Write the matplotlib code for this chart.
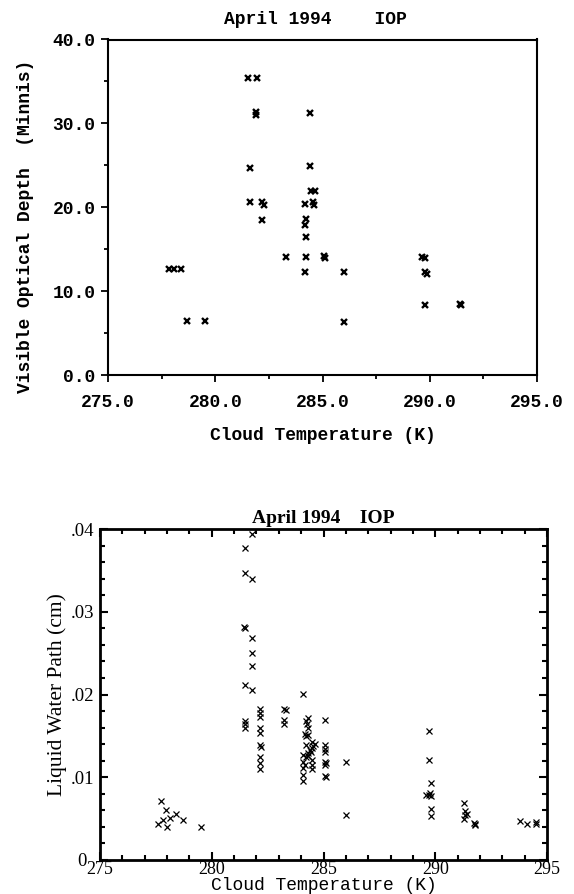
import numpy as np
import matplotlib
matplotlib.use("Agg")
import matplotlib.pyplot as plt
from matplotlib.ticker import MultipleLocator, FixedLocator
from matplotlib.transforms import ScaledTranslation

# --- top panel: visible optical depth vs cloud temperature
od_temp = [281.55, 281.95, 281.9, 281.9, 284.4, 281.6, 284.4, 284.45, 284.65,
           281.6, 282.2, 282.25, 284.2, 284.55, 284.6, 282.2, 284.25, 284.2,
           284.25, 283.3, 284.25, 285.05, 285.1, 284.2, 286.0, 277.85, 278.1,
           278.4, 278.7, 279.5, 286.0, 289.65, 289.8, 289.8, 289.85, 289.8,
           291.4, 291.45]
od_depth = [35.4, 35.4, 31.0, 31.4, 31.2, 24.7, 24.9, 21.9, 21.9,
            20.6, 20.6, 20.3, 20.4, 20.6, 20.3, 18.5, 18.6, 17.9,
            16.4, 14.1, 14.1, 14.2, 13.9, 12.3, 12.3, 12.6, 12.6,
            12.6, 6.4, 6.4, 6.3, 14.1, 14.0, 12.3, 12.1, 8.4,
            8.5, 8.3]
od_xticks = [275.0, 280.0, 285.0, 290.0, 295.0]
od_yticks = [0.0, 10.0, 20.0, 30.0, 40.0]

# --- bottom panel: liquid water path vs cloud temperature
lwp_temp = [277.75, 277.95, 277.6, 277.8, 278.0, 278.15, 278.4, 278.7, 279.5,
            281.5, 281.5, 281.45, 281.5, 281.5, 281.5, 281.5, 281.5,
            281.8, 281.8, 281.8, 281.8, 281.8, 281.8,
            282.15, 282.15, 282.15, 282.15, 282.15, 282.15, 282.2, 282.15, 282.15, 282.15,
            283.25, 283.3, 283.25, 283.25,
            284.1, 284.2, 284.3, 284.25, 284.3, 284.15, 284.2, 284.3, 284.2, 284.5,
            284.55, 284.4, 284.5, 284.1, 284.2, 284.3, 284.45, 284.1, 284.15, 284.1,
            284.5, 284.5, 284.5, 284.1, 284.1, 284.3, 284.6,
            285.05, 285.05, 285.05, 285.05, 285.05, 285.1, 285.05, 285.05, 285.1,
            286.0, 286.0,
            289.7, 289.7, 289.8, 289.6, 289.7, 289.75, 289.8, 289.8, 289.8,
            291.3, 291.35, 291.4, 291.3, 291.35,
            291.75, 291.8, 291.8,
            293.8, 294.1, 294.5, 294.5]
lwp_cm = [0.0071, 0.0060, 0.0044, 0.0048, 0.0040, 0.0051, 0.0055, 0.0048, 0.0040,
          0.0377, 0.0347, 0.0282, 0.0280, 0.0212, 0.0168, 0.0164, 0.0159,
          0.0394, 0.0339, 0.0268, 0.0250, 0.0234, 0.0205,
          0.0182, 0.0178, 0.0173, 0.0159, 0.0153, 0.0139, 0.0137, 0.0125, 0.0117, 0.0110,
          0.0183, 0.0181, 0.0169, 0.0164,
          0.0201, 0.0168, 0.0172, 0.0164, 0.0160, 0.0152, 0.0150, 0.0151, 0.0139, 0.0142,
          0.0138, 0.0133, 0.0135, 0.0127, 0.0125, 0.0129, 0.0130, 0.0119, 0.0115, 0.0111,
          0.0121, 0.0115, 0.0110, 0.0103, 0.0095, 0.0126, 0.0140,
          0.0169, 0.0139, 0.0134, 0.0130, 0.0119, 0.0117, 0.0115, 0.0102, 0.0100,
          0.0118, 0.0054,
          0.0156, 0.0121, 0.0093, 0.0078, 0.0079, 0.0081, 0.0077, 0.0062, 0.0053,
          0.0069, 0.0059, 0.0056, 0.0050, 0.0054,
          0.0045, 0.0042, 0.0044,
          0.0047, 0.0044, 0.0046, 0.0043]
lwp_xticks = [275, 280, 285, 290, 295]
lwp_yticks = [0, 0.01, 0.02, 0.03, 0.04]
lwp_yticklabels = ["0", ".01", ".02", ".03", ".04"]

W, H = 574, 894
fig = plt.figure(figsize=(W / 100, H / 100), dpi=100)

def box(l, t, r, b):
    return [l / W, 1 - b / H, (r - l) / W, (b - t) / H]

mono = "Liberation Mono"
serif = "Liberation Serif"

# top panel
ax1 = fig.add_axes(box(108, 39.5, 537, 375))
ax1.plot(od_temp, od_depth, "x", color="black", ms=4.2, mew=1.7)
ax1.set_xlim(275, 295)
ax1.set_ylim(0, 40)
ax1.xaxis.set_major_locator(FixedLocator(od_xticks))
ax1.yaxis.set_major_locator(FixedLocator(od_yticks))
ax1.xaxis.set_minor_locator(MultipleLocator(2.5))
ax1.yaxis.set_minor_locator(MultipleLocator(5))
ax1.set_xticklabels([f"{v:.1f}" for v in od_xticks], family=mono, weight="bold", fontsize=13)
ax1.set_yticklabels([f"{v:.1f}" for v in od_yticks], family=mono, weight="bold", fontsize=13)
ax1.tick_params(which="both", direction="out", top=False, right=False, width=1.3)
ax1.tick_params(which="major", length=5)
ax1.tick_params(which="minor", length=3)
ax1.tick_params(axis="x", which="major", pad=9)
ax1.tick_params(axis="y", which="major", pad=4)
for s in ax1.spines.values():
    s.set_linewidth(1.5)
ax1.set_xlabel("Cloud Temperature (K)", family=mono, weight="bold", fontsize=13, va="center")
ax1.xaxis.set_label_coords(0.5, -0.179)
ax1.set_ylabel("Visible Optical Depth  (Minnis)", family=mono, weight="bold", fontsize=13, va="center")
ax1.yaxis.set_label_coords(-0.192, 0.444)
ax1.text(0.4825, 1.06, "April 1994    IOP", transform=ax1.transAxes, ha="center", va="center",
         family=mono, weight="bold", fontsize=13)

# bottom panel
ax2 = fig.add_axes(box(100, 529, 547, 860))
ax2.plot(lwp_temp, lwp_cm, "x", color="black", ms=4, mew=0.9, clip_on=False)
ax2.set_xlim(275, 295)
ax2.set_ylim(0, 0.04)
ax2.xaxis.set_major_locator(FixedLocator(lwp_xticks))
ax2.yaxis.set_major_locator(FixedLocator(lwp_yticks))
ax2.xaxis.set_minor_locator(MultipleLocator(1))
ax2.yaxis.set_minor_locator(MultipleLocator(0.002))
ax2.set_xticklabels([str(v) for v in lwp_xticks], family=serif, fontsize=13)
ax2.set_yticklabels(lwp_yticklabels, family=serif, fontsize=13.5)
ax2.tick_params(which="both", direction="in", top=True, right=True, width=1.5)
ax2.tick_params(which="major", length=6)
ax2.tick_params(which="minor", length=3.5)
ax2.tick_params(axis="x", which="major", pad=1)
ax2.tick_params(axis="y", which="major", pad=4)
for s in ax2.spines.values():
    s.set_linewidth(2)
# the zero label sits further out to the left in the original
zero_lbl = ax2.get_yticklabels()[0]
zero_lbl.set_transform(zero_lbl.get_transform() + ScaledTranslation(-8 / 100, 0, fig.dpi_scale_trans))
ax2.set_xlabel("Cloud Temperature (K)", family=mono, fontsize=13)
ax2.xaxis.set_label_coords(0.5, -0.051)
ax2.set_ylabel("Liquid Water Path (cm)", family=serif, fontsize=15.5, va="center")
ax2.yaxis.set_label_coords(-0.095, 0.5)
ax2.text(0.5, 1.018, "April 1994    IOP", transform=ax2.transAxes, ha="center", va="baseline",
         family=serif, weight="bold", fontsize=14)

fig.savefig("out.png", dpi=100)
